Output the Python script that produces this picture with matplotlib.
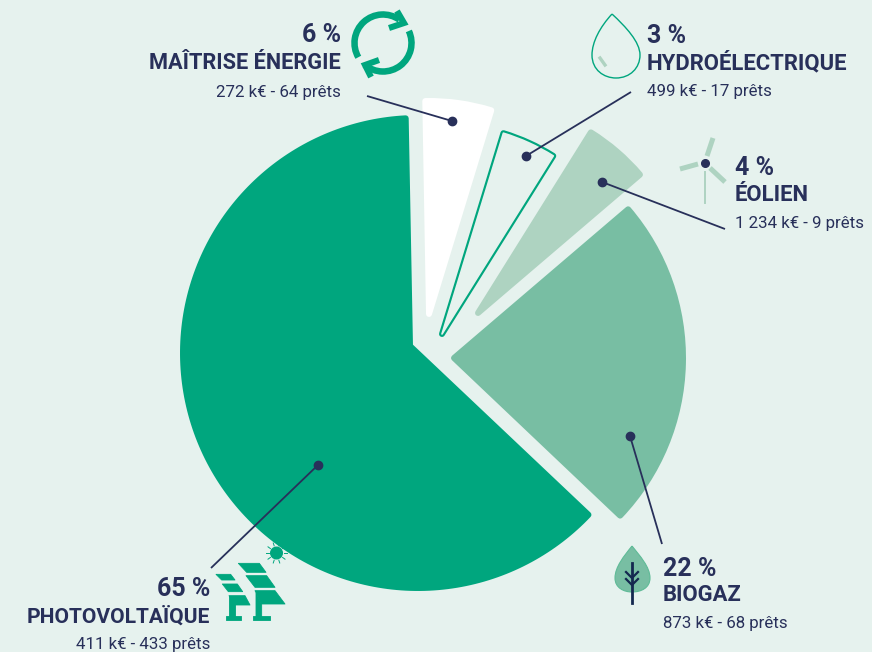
import numpy as np
import matplotlib
matplotlib.use("Agg")
import matplotlib.pyplot as plt
from matplotlib.path import Path
from matplotlib.patches import PathPatch, Polygon, Circle, Arc, Wedge

# ---- data
categories = ["MAÎTRISE ÉNERGIE", "HYDROÉLECTRIQUE", "ÉOLIEN", "BIOGAZ", "PHOTOVOLTAÏQUE"]
percent_labels = ["6 %", "3 %", "4 %", "22 %", "65 %"]
detail_labels = ["272 k€ - 64 prêts", "499 k€ - 17 prêts", "1 234 k€ - 9 prêts",
                 "873 k€ - 68 prêts", "411 k€ - 433 prêts"]
# drawn width of every slice (degrees)
slice_degrees = [18, 15, 17.5, 84, 225.5]

# ---- style
BG = "#E6F2EE"; NAVY = "#28305A"; GREEN = "#00A67E"; MID = "#78BEA3"; LIGHT = "#AED3C1"
slice_colors = ["#FFFFFF", BG, LIGHT, MID, GREEN]
FONT = ["Roboto", "DejaVu Sans"]

fig = plt.figure(figsize=(8.72, 6.52), dpi=100, facecolor=BG)
ax = fig.add_axes([0, 0, 1, 1])
wedges, _ = ax.pie(slice_degrees, colors=slice_colors, startangle=-91, counterclock=True,
                   center=(418, 353), radius=235, frame=True)
ax.set_xlim(0, 872); ax.set_ylim(652, 0); ax.set_aspect("auto"); ax.axis("off")

# apex and radius of each detached slice
apex = [(429, 314), (442, 334), (478, 313), (454, 358)]
radii = [213, 210, 213, 229]
STROKE = 4.3
for w, col, c, r in zip(wedges[:4], slice_colors, apex, radii):
    w.set_center(c); w.set_radius(r)
    w.set_edgecolor(col); w.set_linewidth(STROKE); w.set_joinstyle("round")
# hydro slice is an outline: green halo under a background-coloured core
hyd = wedges[1]
hyd.set_facecolor(BG); hyd.set_edgecolor(BG); hyd.set_linewidth(1.2); hyd.set_zorder(3)
ax.add_patch(Wedge(hyd.center, hyd.r, hyd.theta1, hyd.theta2, facecolor=GREEN,
                   edgecolor=GREEN, linewidth=STROKE, joinstyle="round", zorder=2))
# largest slice: arc around its own circle, apex moved to the notch
pv = wedges[4]
t = np.radians(np.linspace(pv.theta1, pv.theta2 - 2, 200))
arc_xy = np.c_[418 + 235 * np.cos(t), 353 + 235 * np.sin(t)]
pv_xy = np.vstack([[(410, 346)], arc_xy, [(410, 346)]])
pv.set_visible(False)
ax.add_patch(Polygon(pv_xy, closed=True, facecolor=GREEN, edgecolor=GREEN, linewidth=STROKE,
                     joinstyle="round", zorder=2))

# ---- leaders
leaders = [((367, 96), (452, 121)), ((631, 92), (526, 156)), ((725, 229), (602, 182)),
           ((662, 544), (630, 436)), ((211, 568), (318, 465))]
for a, b in leaders:
    ax.plot([a[0], b[0]], [a[1], b[1]], color=NAVY, lw=1.3, zorder=5, solid_capstyle="butt")
    ax.plot([b[0]], [b[1]], "o", ms=6, color=NAVY, zorder=6)

# ---- labels
layout = [(341, "right", 42, 69, 97), (647, "left", 43, 69, 96), (735, "left", 175, 201, 228),
          (663, "left", 576, 601, 628), (210, "right", 596, 623, 649)]
title_sizes = [15.7, 15.9, 15.9, 15.8, 15.1]
for cat, pct, det, (x, ha, y1, y2, y3), ts in zip(categories, percent_labels, detail_labels, layout, title_sizes):
    ax.text(x, y1, pct, ha=ha, va="baseline", fontsize=18, fontweight="bold", color=NAVY, family=FONT)
    ax.text(x, y2, cat, ha=ha, va="baseline", fontsize=ts, fontweight="bold", color=NAVY, family=FONT)
    ax.text(x, y3, det, ha=ha, va="baseline", fontsize=12.2, color=NAVY, family=FONT)

# ---- icons
# recycle
ax.add_patch(Arc((383, 43), 57, 57, theta1=150, theta2=305, color=GREEN, lw=4.7, zorder=4))
ax.add_patch(Arc((383, 43), 57, 57, theta1=-25, theta2=130, color=GREEN, lw=4.7, zorder=4))
for pts in ([(397, 11), (404, 23), (389, 28)], [(379, 60), (365, 65), (371, 77)]):
    ax.plot(*zip(*pts), color=GREEN, lw=4.4, zorder=5, solid_joinstyle="miter", solid_capstyle="butt")
# drop
drop = Path([(612, 14), (600, 27), (592, 42), (592, 55), (592, 70), (604, 78), (616, 78),
             (630, 78), (640, 68), (640, 55), (640, 42), (626, 27), (612, 14)],
            [Path.MOVETO] + [Path.CURVE4] * 12)
ax.add_patch(PathPatch(drop, facecolor="none", edgecolor=GREEN, lw=1.0, zorder=4))
ax.plot([600, 605], [58, 65], color=LIGHT, lw=2.4, zorder=4)
# wind turbine
for seg in ([(707, 156), (713, 138)], [(698, 164), (680, 169)], [(710, 168), (725, 182)]):
    ax.plot(*zip(*seg), color=LIGHT, lw=3.6, solid_capstyle="butt", zorder=4)
ax.plot([705, 705], [172, 203], color=LIGHT, lw=1.4, zorder=4)
ax.plot([705], [163], "o", ms=5.5, color=NAVY, zorder=5)
# leaf
leaf = Path([(632, 546), (624, 556), (615, 567), (615, 578), (615, 588), (624, 592), (632, 592),
             (641, 592), (650, 588), (650, 578), (650, 567), (640, 556), (632, 546)],
            [Path.MOVETO] + [Path.CURVE4] * 12)
ax.add_patch(PathPatch(leaf, facecolor=MID, edgecolor="#5FBB97", lw=0.8, zorder=4))
ax.plot([632, 632], [563, 603], color="#14284F", lw=2, zorder=5)
for y0 in (572, 579):
    ax.plot([626, 632, 638], [y0, y0 + 6, y0], color="#14284F", lw=1.6, zorder=5)
# solar panels
panel_shapes = [
    [(715, 100), (778, 100), (798, 127), (740, 127)],
    [(738, 137), (800, 137), (825, 172), (765, 172)],
    [(765, 182), (825, 182), (855, 222), (785, 222)],
    [(648, 133), (692, 133), (705, 150), (665, 150)],
    [(667, 162), (712, 162), (728, 185), (685, 185)],
    [(687, 197), (735, 197), (750, 225), (705, 225)],
    [(688, 197), (704, 197), (704, 262), (688, 262)],
    [(768, 190), (785, 222), (785, 262), (768, 262)],
    [(677, 258), (724, 258), (724, 269), (677, 269)],
    [(760, 258), (810, 258), (810, 269), (760, 269)],
]
for s in panel_shapes:
    ax.add_patch(Polygon([(px / 3, py / 3 + 530) for px, py in s], closed=True, facecolor=GREEN,
                         edgecolor=GREEN, lw=0.6, joinstyle="round", zorder=4))
sx, sy = 276.5, 553
ax.add_patch(Circle((sx, sy), 5.8, color=GREEN, zorder=4))
for ang in np.radians(np.arange(0, 360, 36)):
    ax.plot([sx + 7.5 * np.cos(ang), sx + 10.5 * np.cos(ang)],
            [sy + 7.5 * np.sin(ang), sy + 10.5 * np.sin(ang)], color=GREEN, lw=0.7, zorder=4)

fig.savefig("out.png", dpi=100, facecolor=BG)
